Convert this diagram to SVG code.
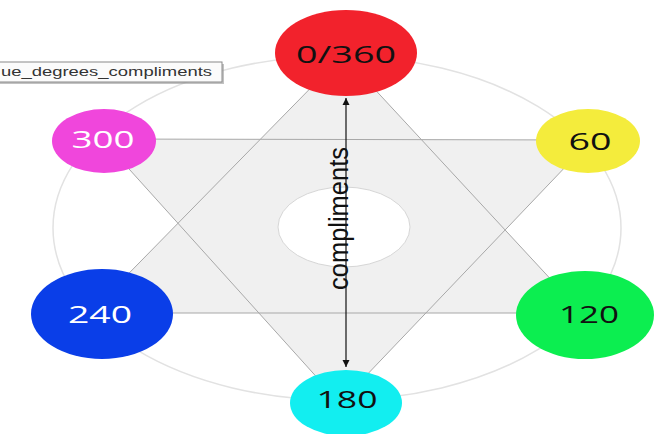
<svg xmlns="http://www.w3.org/2000/svg" width="654" height="434" viewBox="0 0 654 434">
<style>
.node text{font-family:"Open Sans","Liberation Sans",sans-serif;font-size:24px;text-anchor:middle;}
.dark{fill:#111;}
.light{fill:#fff;}
.tri{fill:none;stroke:#a8a8a8;stroke-width:1;}
.trifill{fill:#f0f0f0;stroke:none;}
</style>
<defs>
<marker id="ah" viewBox="0 0 10 10" refX="10" refY="5" markerWidth="7" markerHeight="9" markerUnits="userSpaceOnUse" orient="auto-start-reverse">
<path d="M0,0 L10,5 L0,10 z" fill="#111"/>
</marker>
</defs>
<rect x="0" y="0" width="654" height="434" fill="#fff"/>
<g id="background">
<ellipse cx="337" cy="228" rx="284" ry="172" fill="none" stroke="#e2e2e2" stroke-width="1.5"/>
<polygon class="trifill" points="343,55 90,313 582,313"/>
<polygon class="trifill" points="102,139 591,140 340,403"/>
<ellipse cx="344" cy="227" rx="66" ry="40" fill="#fff" stroke="#d6d6d6" stroke-width="1"/>
</g>
<g id="connectors">
<polygon class="tri" points="343,55 90,313 582,313"/>
<polygon class="tri" points="102,139 591,140 340,403"/>
<line x1="346" y1="98" x2="346" y2="367" stroke="#111" stroke-width="1.2" marker-start="url(#ah)" marker-end="url(#ah)"/>
<text transform="translate(348,290) scale(1.3,1) rotate(-90)" font-family="Liberation Sans,sans-serif" font-size="21" fill="#111" textLength="143" lengthAdjust="spacingAndGlyphs">compliments</text>
</g>
<g id="label-box">
<rect x="0" y="64" width="224" height="20" fill="#9a9a9a" opacity="0.6"/>
<rect x="-2" y="62" width="224" height="20" fill="#fbfbfb" stroke="#8a8a8a" stroke-width="1"/>
<text x="1" y="76" font-family="Liberation Sans,sans-serif" font-size="13" fill="#333" textLength="211" lengthAdjust="spacingAndGlyphs">ue_degrees_compliments</text>
</g>
<g id="node-0" class="node">
<ellipse cx="346" cy="53" rx="71" ry="43" fill="#f2222c"/>
<text class="dark" x="346" y="63" textLength="100" lengthAdjust="spacingAndGlyphs">0/360</text>
</g>
<g id="node-300" class="node">
<ellipse cx="104" cy="141" rx="52" ry="32" fill="#f046dc"/>
<text class="light" x="103" y="148" textLength="63" lengthAdjust="spacingAndGlyphs">300</text>
</g>
<g id="node-60" class="node">
<ellipse cx="588" cy="141" rx="52" ry="32" fill="#f4ec3c"/>
<text class="dark" x="590" y="150" textLength="43" lengthAdjust="spacingAndGlyphs">60</text>
</g>
<g id="node-240" class="node">
<ellipse cx="102" cy="314" rx="71" ry="45" fill="#0a3ee8"/>
<text class="light" x="100" y="323" textLength="64" lengthAdjust="spacingAndGlyphs">240</text>
</g>
<g id="node-120" class="node">
<ellipse cx="585" cy="315" rx="69" ry="44" fill="#0cee50"/>
<text class="dark" x="589" y="323" textLength="60" lengthAdjust="spacingAndGlyphs">120</text>
</g>
<g id="node-180" class="node">
<ellipse cx="346" cy="403" rx="56" ry="33" fill="#12eef0"/>
<text class="dark" x="347" y="408" textLength="61" lengthAdjust="spacingAndGlyphs">180</text>
</g>
</svg>
